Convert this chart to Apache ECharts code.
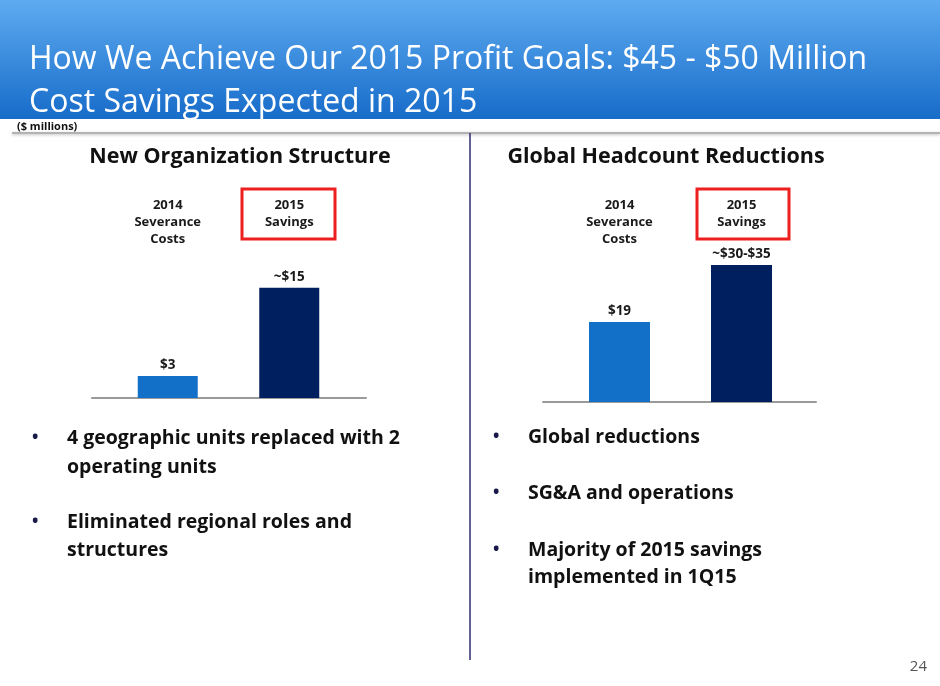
<!DOCTYPE html>
<html>
<head>
<meta charset="utf-8">
<title>2015 Cost Savings</title>
<script src="https://cdn.jsdelivr.net/npm/echarts@6/dist/echarts.min.js"></script>
<style>
  html, body { margin: 0; padding: 0; background: #fff; }
  #slide { width: 940px; height: 686px; }
</style>
</head>
<body>
<div id="slide"></div>
<script>
// data
var categories = ['2014\nSeverance\nCosts', '2015\nSavings'];
var orgValues = [3, 15];
var orgLabels = ['$3', '~$15'];
var headcountValues = [19, 32.5];
var headcountLabels = ['$19', '~$30-$35'];
var barColors = ['#1370c8', '#001f5e'];

var FONT = '"Open Sans", Lato, sans-serif';

var slide = echarts.init(document.getElementById('slide'));

function barData(values) {
    var list = [];
    for (var i = 0; i < values.length; i++) {
        list.push({ value: values[i], itemStyle: { color: barColors[i] } });
    }
    return list;
}

function topAxis(gridIndex) {
    return {
        type: 'category',
        gridIndex: gridIndex,
        position: 'top',
        data: categories,
        axisLine: { show: false },
        axisTick: { show: false },
        axisLabel: {
            inside: true,
            margin: 12,
            verticalAlign: 'top',
            fontFamily: FONT,
            fontWeight: 'bold',
            fontSize: 13,
            lineHeight: 17,
            color: '#1a1a1a'
        }
    };
}

function baseAxis(gridIndex) {
    return {
        type: 'category',
        gridIndex: gridIndex,
        data: [''],
        axisLine: { lineStyle: { color: '#9a9a9a', width: 2 } },
        axisTick: { show: false },
        axisLabel: { show: false }
    };
}

function text(x, y, str, size, weight, color, align) {
    return {
        type: 'text',
        x: x,
        y: y,
        style: {
            text: str,
            fontFamily: FONT,
            fontSize: size,
            fontWeight: weight,
            fill: color,
            align: align || 'left',
            verticalAlign: 'middle'
        }
    };
}

var valueLabel = {
    show: true,
    position: 'top',
    distance: 4,
    fontFamily: FONT,
    fontWeight: 'bold',
    fontSize: 13.5,
    color: '#1a1a1a'
};

var option = {
    animation: false,
    grid: [
        { left: 107, top: 185, width: 243, height: 213 },
        { left: 92, top: 185, width: 274, height: 213 },
        { left: 558.5, top: 185, width: 244, height: 217 },
        { left: 543, top: 185, width: 273, height: 217 }
    ],
    xAxis: [
        { type: 'category', gridIndex: 0, data: categories, show: false },
        topAxis(0),
        baseAxis(1),
        { type: 'category', gridIndex: 2, data: categories, show: false },
        topAxis(2),
        baseAxis(3)
    ],
    yAxis: [
        { type: 'value', gridIndex: 0, min: 0, max: 29, show: false },
        { type: 'value', gridIndex: 1, show: false },
        { type: 'value', gridIndex: 2, min: 0, max: 51.5, show: false },
        { type: 'value', gridIndex: 3, show: false }
    ],
    series: [
        {
            name: 'New Organization Structure',
            type: 'bar',
            xAxisIndex: 0,
            yAxisIndex: 0,
            barWidth: 60,
            data: barData(orgValues),
            label: Object.assign({}, valueLabel, {
                formatter: function (p) { return orgLabels[p.dataIndex]; }
            })
        },
        {
            name: 'Global Headcount Reductions',
            type: 'bar',
            xAxisIndex: 3,
            yAxisIndex: 2,
            barWidth: 61,
            data: barData(headcountValues),
            label: Object.assign({}, valueLabel, {
                formatter: function (p) { return headcountLabels[p.dataIndex]; }
            })
        }
    ],
    graphic: [
        // title band
        {
            type: 'rect',
            shape: { x: 0, y: 0, width: 940, height: 119 },
            style: {
                fill: new echarts.graphic.LinearGradient(0, 0, 0, 1, [
                    { offset: 0, color: '#5eabf1' },
                    { offset: 1, color: '#176cc9' }
                ])
            }
        },
        text(29, 60, 'How We Achieve Our 2015 Profit Goals: $45 - $50 Million', 32, 'normal', '#ffffff'),
        text(29, 103, 'Cost Savings Expected in 2015', 32, 'normal', '#ffffff'),
        text(17, 127, '($ millions)', 11, 'bold', '#111111'),
        {
            type: 'rect',
            shape: { x: 12, y: 132, width: 928, height: 2 },
            style: { fill: '#b3b3b3', shadowColor: 'rgba(0,0,0,0.25)', shadowBlur: 3, shadowOffsetY: 1 }
        },
        {
            type: 'line',
            shape: { x1: 470, y1: 133, x2: 470, y2: 660 },
            style: { stroke: '#2e2e6e', lineWidth: 1.5 }
        },
        // section headings
        text(240, 157, 'New Organization Structure', 21.5, 'bold', '#111111', 'center'),
        text(666, 157, 'Global Headcount Reductions', 21.5, 'bold', '#111111', 'center'),
        // red boxes round the 2015 labels
        {
            type: 'rect',
            shape: { x: 242, y: 189, width: 93, height: 50 },
            style: { fill: 'none', stroke: '#ee1f1f', lineWidth: 3 }
        },
        {
            type: 'rect',
            shape: { x: 697, y: 189, width: 92, height: 50 },
            style: { fill: 'none', stroke: '#ee1f1f', lineWidth: 3 }
        },
        // left bullets
        text(32, 438, '\u2022', 17, 'bold', '#1a1a4a'),
        text(67, 438, '4 geographic units replaced with 2', 19.5, 'bold', '#111111'),
        text(67, 467, 'operating units', 19.5, 'bold', '#111111'),
        text(32, 522, '\u2022', 17, 'bold', '#1a1a4a'),
        text(67, 522, 'Eliminated regional roles and', 19.5, 'bold', '#111111'),
        text(67, 550, 'structures', 19.5, 'bold', '#111111'),
        // right bullets
        text(493, 437, '\u2022', 17, 'bold', '#1a1a4a'),
        text(528, 437, 'Global reductions', 19.5, 'bold', '#111111'),
        text(493, 493, '\u2022', 17, 'bold', '#1a1a4a'),
        text(528, 493, 'SG&A and operations', 19.5, 'bold', '#111111'),
        text(493, 550, '\u2022', 17, 'bold', '#1a1a4a'),
        text(528, 550, 'Majority of 2015 savings', 19.5, 'bold', '#111111'),
        text(528, 577, 'implemented in 1Q15', 19.5, 'bold', '#111111'),
        // page number
        text(927, 667, '24', 15, 'normal', '#555555', 'right')
    ]
};

slide.setOption(option);
</script>
</body>
</html>
